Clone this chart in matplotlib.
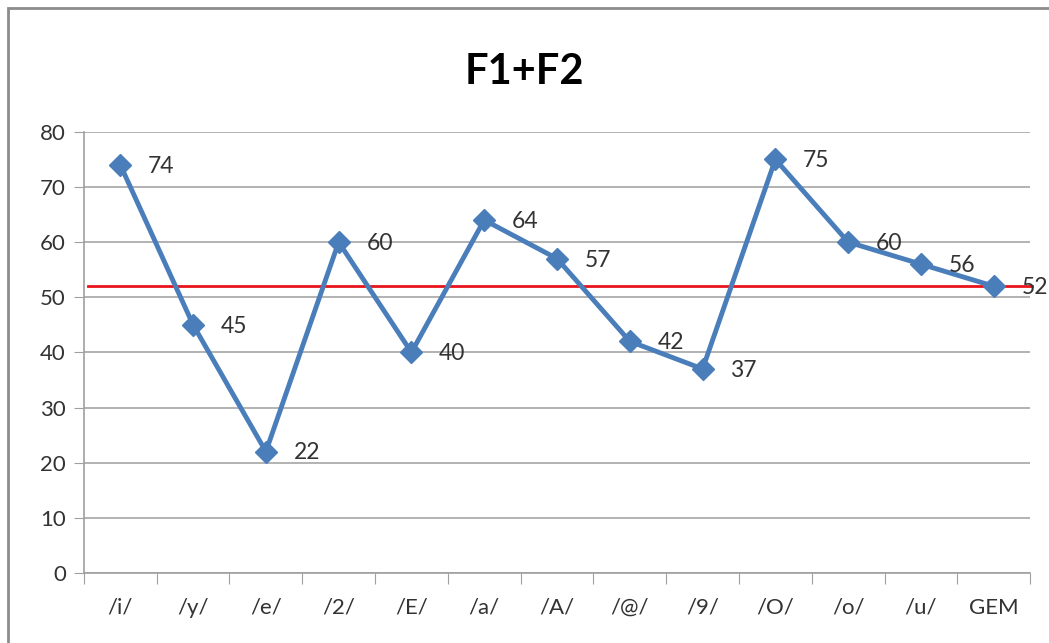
import matplotlib
matplotlib.use("Agg")
import matplotlib.pyplot as plt
from matplotlib.patches import Rectangle

categories = ["/i/", "/y/", "/e/", "/2/", "/E/", "/a/", "/A/", "/@/", "/9/", "/O/", "/o/", "/u/", "GEM"]
values = [74, 45, 22, 60, 40, 64, 57, 42, 37, 75, 60, 56, 52]
mean_value = 52

plt.rcParams['font.family'] = ['Lato', 'DejaVu Sans']

fig = plt.figure(figsize=(10.49, 6.43), dpi=100)
# outer chart frame
fig.patches.append(Rectangle((8 / 1049, -0.05), 1.2, 1 - 8 / 643 + 0.05,
                             transform=fig.transFigure, fill=False,
                             edgecolor='#8c8c8c', linewidth=2))

ax = fig.add_axes([0.080, 0.109, 0.902, 0.686])
x = range(len(categories))

ax.plot(x, values, color='#4a7ebb', linewidth=3.5, marker='D', markersize=11,
        markerfacecolor='#4a7ebb', markeredgecolor='#4a7ebb', zorder=3)
ax.axhline(mean_value, color='#e8131b', linewidth=2, zorder=2, clip_on=False,
           xmin=0.004, xmax=1.002)

for xi, v in zip(x, values):
    ax.annotate(str(v), (xi, v), xytext=(20, -1), textcoords='offset points',
                fontsize=16.5, color='#333333', va='center', ha='left',
                annotation_clip=False)

ax.set_xlim(-0.5, len(categories) - 0.5)
ax.set_ylim(0, 80)
ax.set_yticks(range(0, 81, 10))
ax.set_xticks([i - 0.5 for i in range(len(categories) + 1)], minor=False)
ax.set_xticklabels([])
ax.set_xticks(list(x), minor=True)
ax.set_xticklabels(categories, minor=True)
ax.tick_params(axis='x', which='major', length=8, color='#a0a0a0', direction='out')
ax.tick_params(axis='x', which='minor', length=0, labelsize=16, labelcolor='#333333', pad=18)
ax.tick_params(axis='y', length=7, color='#a0a0a0', labelsize=16, labelcolor='#333333', pad=6)

ax.grid(axis='y', color='#a6a6a6', linewidth=1.2)
ax.set_axisbelow(True)
for s in ['top', 'right']:
    ax.spines[s].set_visible(False)
for s in ['left', 'bottom']:
    ax.spines[s].set_color('#a0a0a0')
    ax.spines[s].set_linewidth(1.2)

fig.text(0.5, 0.888, "F1+F2", ha='center', va='center', fontsize=30, fontweight='bold')

fig.savefig("out.png", dpi=100)
